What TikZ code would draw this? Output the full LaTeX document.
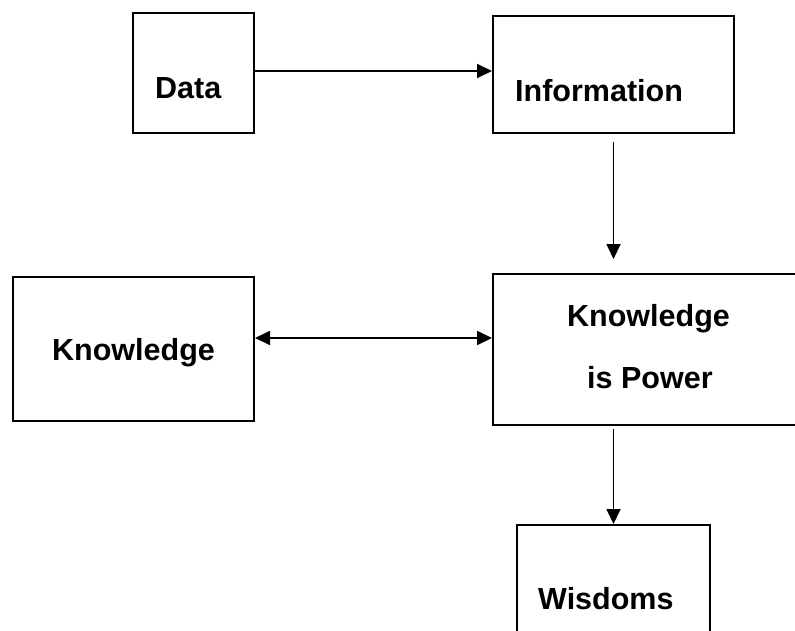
\documentclass[tikz,border=0pt]{standalone}
\usepackage{fontspec}
\setmainfont{Liberation Sans}
\usetikzlibrary{arrows.meta}
\tikzset{
  boxnode/.style={draw=black, line width=2pt, rectangle, inner sep=0pt},
  lbl/.style={anchor=base west, inner sep=0pt, font=\fontsize{30.5}{36}\selectfont\bfseries},
  conn/.style={line width=1.8pt, -{Triangle[length=15pt,width=14pt]}},
  dconn/.style={line width=1.8pt, {Triangle[length=15pt,width=14pt]}-{Triangle[length=15pt,width=14pt]}}
}
\begin{document}
\begin{tikzpicture}[x=1pt,y=-1pt]
\useasboundingbox (0,0) rectangle (795,630);
\clip (0,0) rectangle (795,630);
\fill[white] (0,0) rectangle (795,630);
% boxes
\node[boxnode, minimum width=121pt, minimum height=120pt] (data) at (193.5,73) {};
\node[boxnode, minimum width=241pt, minimum height=117pt] (info) at (613.5,74.5) {};
\node[boxnode, minimum width=241pt, minimum height=144pt] (know) at (133.5,349) {};
\node[boxnode, minimum width=337pt, minimum height=151pt] (kip) at (661.5,349.5) {};
\node[boxnode, minimum width=193pt, minimum height=145pt] (wis) at (613.5,597.5) {};
% labels
\node[lbl] (tdata) at (155,98) {Data};
\node[lbl] (tinfo) at (515,101) {Information};
\node[lbl] (tknow) at (52,360) {Knowledge};
\node[lbl] (tkip1) at (567,326) {Knowledge};
\node[lbl] (tkip2) at (587,388) {is Power};
\node[lbl] (twis) at (538,609) {Wisdoms};
% connectors
\draw[conn] ([yshift=2pt]data.east) -- ([yshift=2pt]data.east -| info.west);
\draw[conn, shorten <=8pt, shorten >=14pt] (info.south) -- (info.south |- kip.north);
\draw[dconn] ([yshift=11pt]know.east) -- ([yshift=11pt]know.east -| kip.west);
\draw[conn, shorten <=3pt] (info.south |- kip.south) -- (wis.north);
\end{tikzpicture}
\end{document}
